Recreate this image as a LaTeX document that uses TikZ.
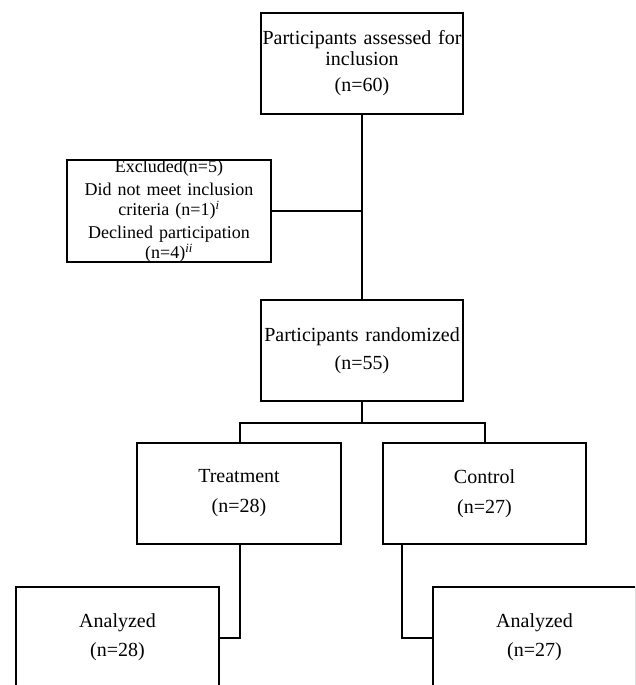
\documentclass[tikz,border=0pt]{standalone}
\usepackage{fontspec}
\setmainfont{Liberation Serif}
\begin{document}
\begin{tikzpicture}[x=1pt,y=-1pt,
  box/.style={draw=black,line width=2pt,inner sep=0pt,align=center,
    font=\fontsize{20}{21}\selectfont},
  wbox/.style={box,minimum width=202pt,minimum height=101pt,text width=202pt},
  link/.style={draw=black,line width=2pt}]
\clip (0,0) rectangle (635,685);
\node[wbox] (top) at (362,63.5) {Participants assessed for\\inclusion\\[5pt](n=60)};
\node[box,minimum width=204pt,minimum height=100pt,text width=204pt,
  font=\fontsize{18}{19.5}\selectfont] (excl) at (169,211)
  {Excluded(n=5)\\[4pt]Did not meet inclusion\\criteria (n=1)\textsuperscript{\textit{i}}\\[4pt]Declined participation\\(n=4)\textsuperscript{\textit{ii}}};
\node[wbox] (rand) at (362,350.5) {Participants randomized\\[7pt](n=55)};
\node[wbox,minimum width=204pt,text width=204pt] (treat) at (239,493.5) {Treatment\\[9pt](n=28)};
\node[wbox,minimum width=203pt,text width=203pt] (ctrl) at (484.5,493.5) {Control\\[9pt](n=27)};
\node[wbox,minimum width=203pt,text width=203pt] (anL) at (117.5,637.5) {Analyzed\\[8pt](n=28)};
\node[wbox,minimum width=203pt,text width=203pt] (anR) at (534.5,637.5) {Analyzed\\[8pt](n=27)};
\draw[link] (top.south) -- (rand.north);
\draw[link] (excl.east) -- (excl.east -| top.south);
\draw[link] (rand.south) -- ++(0,21) coordinate (split);
\draw[link] ([xshift=0.5pt]treat.north) |- (split) -| ([xshift=0.5pt]ctrl.north);
\draw[link] ([xshift=1pt]treat.south) |- (anL.east);
\draw[link] ([xshift=20pt]ctrl.south west) |- (anR.west);
\end{tikzpicture}
\end{document}
